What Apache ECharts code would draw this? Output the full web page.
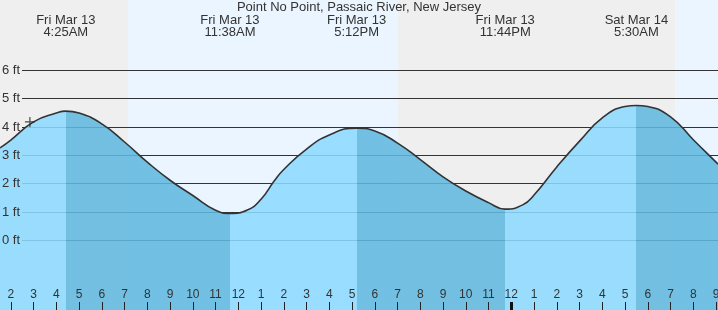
<!DOCTYPE html>
<html><head><meta charset="utf-8">
<script src="https://cdn.jsdelivr.net/npm/echarts@6/dist/echarts.min.js"></script>
<style>html,body{margin:0;padding:0;background:#fff;overflow:hidden}#c{width:718px;height:310px}</style>
</head><body><div id="c"></div>
<script>
const titleText = 'Point No Point, Passaic River, New Jersey';
// hours counted from midnight starting Fri Mar 13
const tideHours = [1.525, 2, 3, 4, 4.417, 5, 6, 7, 8, 9, 10, 11, 11.633, 12.4, 13, 13.6, 14, 15, 16, 17.2, 18, 19, 20, 21, 22, 23, 23.733, 24.5, 25, 26, 27, 28, 29, 29.5, 30, 31, 32, 33, 33.086];
const tideFeet  = [3.26, 3.54, 4.18, 4.49, 4.56, 4.49, 4.11, 3.47, 2.76, 2.12, 1.58, 1.06, 0.95, 1.07, 1.45, 2.12, 2.50, 3.22, 3.72, 3.96, 3.86, 3.43, 2.85, 2.24, 1.74, 1.33, 1.10, 1.25, 1.60, 2.59, 3.50, 4.32, 4.72, 4.76, 4.72, 4.36, 3.55, 2.76, 2.69];
const extremeHours = [4.417, 11.633, 17.2, 23.733, 29.5];
const extremeDays  = ['Fri Mar 13', 'Fri Mar 13', 'Fri Mar 13', 'Fri Mar 13', 'Sat Mar 14'];
const extremeTimes = ['4:25AM', '11:38AM', '5:12PM', '11:44PM', '5:30AM'];
const extremeTypes = ['high', 'low', 'high', 'low', 'high'];
const hourTicks = [2,3,4,5,6,7,8,9,10,11,12,13,14,15,16,17,18,19,20,21,22,23,24,25,26,27,28,29,30,31,32,33];
const midnightTicks = [24];
const footTicks = [0, 1, 2, 3, 4, 5, 6];
const bandStart = [1.525, 7.15, 19.02, 31.2];
const bandEnd   = [7.15, 19.02, 31.2, 33.086];
const bandIsDay = [false, true, false, true];
const nowPoint = [2.84, 4.18];

const X_MIN = 1.525, X_MAX = 33.086, Y_MIN = -2.46, Y_MAX = 8.482;
const LIGHT = '#8cdaff', DARK = '#5fb8e0';

const pieces = [{lt: extremeHours[0], color: extremeTypes[0] === 'high' ? LIGHT : DARK}];
extremeHours.forEach((h, i) => {
  const p = {gte: h, color: extremeTypes[i] === 'high' ? DARK : LIGHT};
  if (i + 1 < extremeHours.length) p.lt = extremeHours[i + 1];
  pieces.push(p);
});

const tide = tideHours.map((h, i) => [h, tideFeet[i]]);
const bands = bandStart.map((s, i) => [
  {xAxis: s, itemStyle: {color: bandIsDay[i] ? '#ebf5ff' : '#efefef'}},
  {xAxis: bandEnd[i]}
]);

const font = 'Arial, "Liberation Sans", sans-serif';
const noLine = {show: false, onZero: false};
const chart = echarts.init(document.getElementById('c'));
chart.setOption({
  animation: false,
  title: {text: titleText, left: 'center', top: 1, padding: 0,
    textStyle: {fontSize: 13, fontWeight: 'normal', color: '#333', fontFamily: font}},
  grid: [
    {left: 0, right: 0, top: 0, bottom: 0, outerBoundsMode: 'none', containLabel: false},
    {left: 22, right: 0, top: 0, bottom: 0, outerBoundsMode: 'none', containLabel: false}
  ],
  visualMap: {show: false, type: 'piecewise', dimension: 0, seriesIndex: 0, pieces: pieces},
  xAxis: [
    {type: 'value', gridIndex: 0, min: X_MIN, max: X_MAX, position: 'bottom', z: 5,
      axisLine: noLine, splitLine: {show: false},
      axisTick: {show: true, inside: true, length: 8, customValues: hourTicks, lineStyle: {color: '#222', width: 1}},
      axisLabel: {inside: true, margin: 9, customValues: hourTicks, fontSize: 12, color: '#333', fontFamily: font,
        formatter: v => { const r = Math.round(v) % 12; return String(r === 0 ? 12 : r); }}},
    {type: 'value', gridIndex: 0, min: X_MIN, max: X_MAX, position: 'top', z: 5,
      axisLine: noLine, splitLine: {show: false}, axisTick: {show: false},
      axisLabel: {inside: true, margin: 14, customValues: extremeHours, fontSize: 13, lineHeight: 12,
        color: '#333', fontFamily: font, align: 'center', verticalAlign: 'top',
        formatter: v => { const i = extremeHours.findIndex(h => Math.abs(h - v) < 1e-6); return i < 0 ? '' : extremeDays[i] + '\n' + extremeTimes[i]; }}},
    {type: 'value', gridIndex: 0, min: X_MIN, max: X_MAX, position: 'bottom', z: 6,
      axisLine: noLine, splitLine: {show: false}, axisLabel: {show: false},
      axisTick: {show: true, inside: true, length: 8, customValues: midnightTicks, lineStyle: {color: '#111', width: 3}}},
    {type: 'value', gridIndex: 1, min: X_MIN, max: X_MAX, show: false, axisLine: noLine}
  ],
  yAxis: [
    {type: 'value', gridIndex: 0, min: Y_MIN, max: Y_MAX, z: 5,
      axisLine: noLine, axisTick: {show: false, customValues: footTicks}, splitLine: {show: false},
      axisLabel: {inside: true, margin: 2, customValues: footTicks, fontSize: 13, color: '#333', fontFamily: font,
        formatter: '{value} ft'}},
    {type: 'value', gridIndex: 1, min: Y_MIN, max: Y_MAX, z: 1.5,
      axisLine: noLine, axisLabel: {show: false}, axisTick: {show: false, customValues: footTicks},
      splitLine: {show: true, lineStyle: {color: '#333', width: 1}}}
  ],
  series: [
    {type: 'line', xAxisIndex: 0, yAxisIndex: 0, data: tide, smooth: 0.5, symbol: 'none', z: 2,
      lineStyle: {width: 0}, areaStyle: {origin: 'start', opacity: 0.867}},
    {type: 'line', xAxisIndex: 0, yAxisIndex: 0, data: tide, smooth: 0.5, symbol: 'none', z: 3,
      lineStyle: {color: '#333', width: 1.6}, itemStyle: {color: '#333'},
      markArea: {silent: true, z: 1, data: bands}},
    {type: 'scatter', xAxisIndex: 0, yAxisIndex: 0, data: [nowPoint], z: 4,
      symbol: 'path://M0,5L10,5M5,0L5,10', symbolSize: 10,
      itemStyle: {color: 'none', borderColor: '#222', borderWidth: 1.2}}
  ]
});
</script></body></html>
